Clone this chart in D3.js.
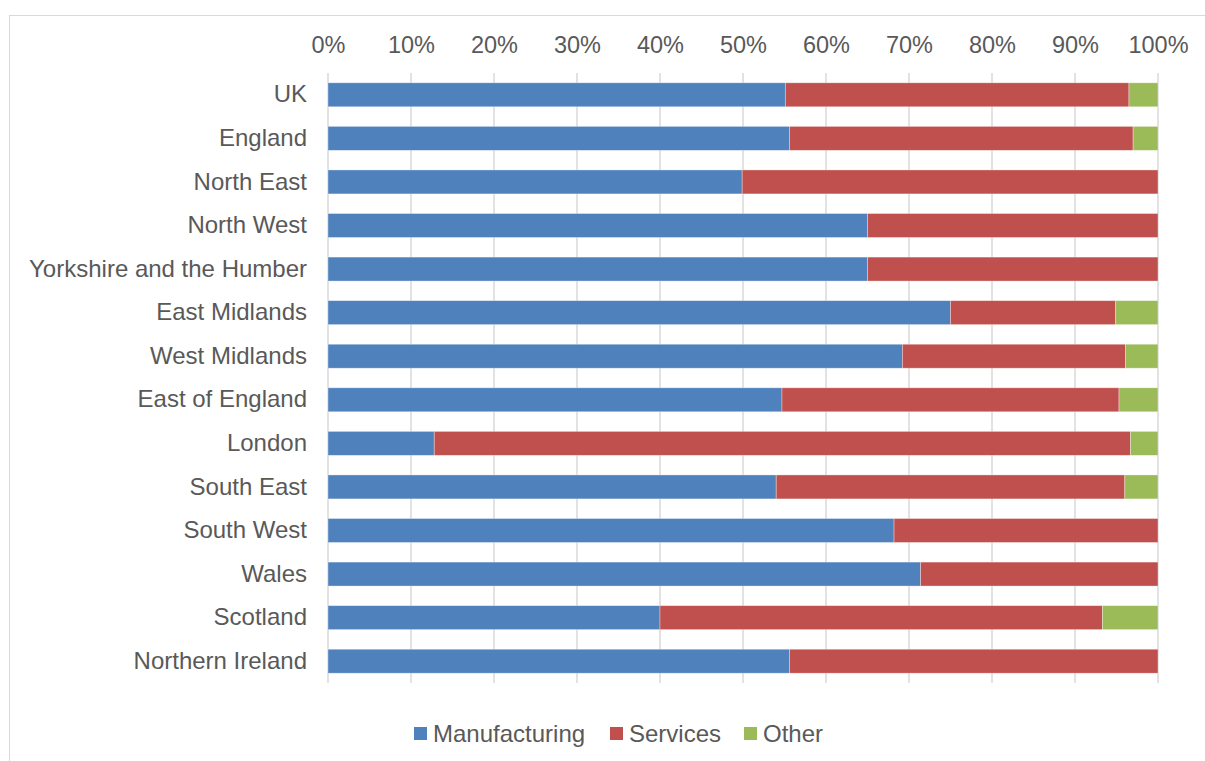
<!DOCTYPE html>
<html><head><meta charset="utf-8">
<script src="https://cdn.jsdelivr.net/npm/d3@7"></script>
<style>body{margin:0;background:#fff;} svg{display:block;font-family:"Liberation Sans",Arial,sans-serif;}</style>
</head><body>
<svg id="c" width="1205" height="761"></svg>
<script>
const categories = ["UK","England","North East","North West","Yorkshire and the Humber","East Midlands","West Midlands","East of England","London","South East","South West","Wales","Scotland","Northern Ireland"];
const manufacturing = [55.1,55.6,49.9,65.0,65.0,75.0,69.2,54.7,12.8,54.0,68.2,71.4,40.0,55.6];
const services      = [41.4,41.4,50.1,35.0,35.0,19.9,26.9,40.6,83.9,42.0,31.8,28.6,53.3,44.4];
const other         = [3.5,3.0,0,0,0,5.1,3.9,4.7,3.3,4.0,0,0,6.7,0];
const seriesNames = ["Manufacturing","Services","Other"];
const seriesColors = ["#4F81BD","#C0504D","#9BBB59"];
const tickValues = [0,10,20,30,40,50,60,70,80,90,100];

const FONT = "'Liberation Sans',Arial,sans-serif";
const svg = d3.select("#c");
svg.append("rect").attr("x",9.5).attr("y",15.5).attr("width",1300).attr("height",900)
  .attr("fill","none").attr("stroke","#d9d9d9").attr("stroke-width",1);

const x = d3.scaleLinear().domain([0,100]).range([328,1158]);
const y = d3.scaleBand().domain(categories).range([73,683]).paddingInner(0.45).paddingOuter(0.225);

// gridlines
svg.append("g").selectAll("line").data(tickValues).join("line")
  .attr("x1",d=>x(d)).attr("x2",d=>x(d)).attr("y1",73).attr("y2",683)
  .attr("stroke","#d9d9d9").attr("stroke-width",1.5);

// top axis labels
const ax = svg.append("g").attr("transform","translate(0,53)")
  .call(d3.axisTop(x).tickValues(tickValues).tickFormat(d=>d+"%").tickSize(0).tickPadding(0));
ax.select(".domain").remove();
ax.selectAll("text").attr("fill","#595959").attr("font-size",23.5).attr("font-family",FONT).attr("dy",0);

// category labels
const ay = svg.append("g").attr("transform","translate(307,0)")
  .call(d3.axisLeft(y).tickSize(0).tickPadding(0));
ay.select(".domain").remove();
ay.selectAll("text").attr("fill","#595959").attr("font-size",24).attr("font-family",FONT);

// stacked bars
const rows = categories.map((c,i)=>({cat:c, Manufacturing:manufacturing[i], Services:services[i], Other:other[i]}));
const stack = d3.stack().keys(seriesNames)(rows);
svg.append("g").selectAll("g").data(stack).join("g")
  .attr("fill",(d,i)=>seriesColors[i])
  .selectAll("rect").data(d=>d).join("rect")
  .attr("x",d=>x(d[0])).attr("width",d=>Math.max(0,x(d[1])-x(d[0])))
  .attr("y",d=>y(d.data.cat)).attr("height",y.bandwidth())
  .attr("stroke","rgba(255,255,255,0.45)").attr("stroke-width",0.75);

// legend
const lg = svg.append("g");
const legendX = [414,610,744];
seriesNames.forEach((n,i)=>{
  lg.append("rect").attr("x",legendX[i]).attr("y",727).attr("width",13).attr("height",13).attr("fill",seriesColors[i]);
  lg.append("text").attr("x",legendX[i]+19).attr("y",734).attr("dy","0.35em")
    .attr("fill","#595959").attr("font-size",24).attr("font-family",FONT).text(n);
});
</script>
</body></html>
